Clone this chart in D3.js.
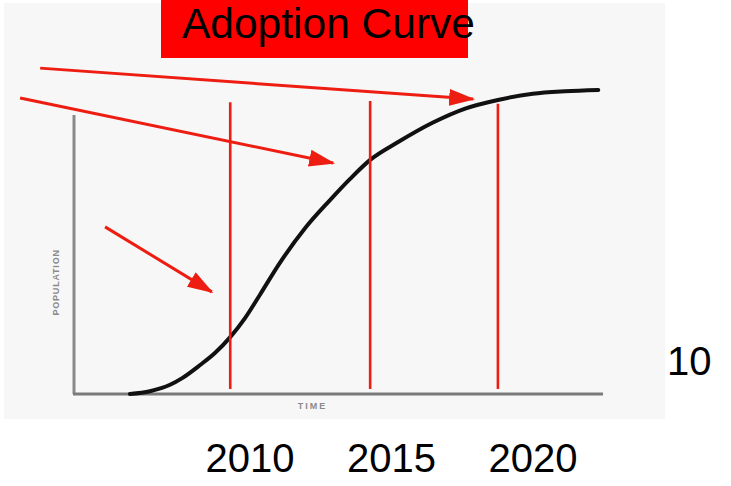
<!DOCTYPE html>
<html>
<head>
<meta charset="utf-8">
<script src="https://cdn.jsdelivr.net/npm/d3@7"></script>
<style>
  html, body { margin: 0; padding: 0; background: #ffffff; }
  svg { display: block; }
  text { font-family: "Liberation Sans", Arial, sans-serif; }
</style>
</head>
<body>
<svg id="chart" width="731" height="486"></svg>
<script>
// ---- data (time and population in arbitrary 0-100 units of the sketched chart) ----
const curveTime = [10.4, 14.2, 18.0, 20.3, 23.7, 26.5, 29.4, 32.2, 35.0, 38.8, 43.6, 48.3, 52.1, 55.9, 61.2, 67.8, 73.9, 80.1, 86.7, 92.8, 99.1];
const curvePop  = [0, 1.0, 3.3, 5.7, 10.4, 14.7, 20.4, 27.2, 35.5, 47.0, 59.5, 69.5, 77.1, 83.9, 90.3, 97.3, 102.3, 105.4, 107.6, 108.5, 109.0];

const markerYears = ["2010", "2015", "2020"];
const markerTime  = [29.4, 55.9, 80.1];
const markerTop   = [104.6, 105.0, 104.0];

// arrows: start/end in chart units
const arrowX1 = [-6.6, -10.4, 5.7];
const arrowY1 = [116.8, 106.1, 59.9];
const arrowX2 = [75.4, 48.9, 25.9];
const arrowY2 = [105.7, 82.8, 36.6];

const titleText = "Adoption Curve";
const sideLabel = "10";
const xAxisLabel = "TIME";
const yAxisLabel = "POPULATION";

// ---- drawing ----
const svg = d3.select("#chart");

const x = d3.scaleLinear().domain([0, 100]).range([75, 603]);
const y = d3.scaleLinear().domain([0, 100]).range([394, 115]);

// scanned paper background
svg.append("rect")
  .attr("x", 4).attr("y", 3).attr("width", 661).attr("height", 416)
  .attr("fill", "#f7f7f7");

// title box
svg.append("rect")
  .attr("x", 161).attr("y", 0).attr("width", 307).attr("height", 58)
  .attr("fill", "#ff0000");
svg.append("text")
  .attr("x", 182).attr("y", 38)
  .attr("font-size", 42.5)
  .attr("fill", "#000")
  .text(titleText);

// axes of the sketch
const axisG = svg.append("g");
axisG.append("line")
  .attr("x1", x(0) - 1).attr("x2", x(0) - 1)
  .attr("y1", y(0)).attr("y2", y(100))
  .attr("stroke", "#8a8a8a").attr("stroke-width", 3);
axisG.append("line")
  .attr("x1", x(0) - 2).attr("x2", x(100))
  .attr("y1", y(0)).attr("y2", y(0))
  .attr("stroke", "#7a7a7a").attr("stroke-width", 3);

// faint axis labels
svg.append("text")
  .attr("transform", `translate(${x(0) - 16},${y(40)}) rotate(-90)`)
  .attr("text-anchor", "middle")
  .attr("font-size", 9)
  .attr("letter-spacing", 0.8)
  .attr("fill", "#8a8a8a")
  .attr("font-weight", "bold")
  .text(yAxisLabel);
svg.append("text")
  .attr("x", x(45)).attr("y", y(0) + 15)
  .attr("text-anchor", "middle")
  .attr("font-size", 9)
  .attr("letter-spacing", 2)
  .attr("font-weight", "bold")
  .attr("fill", "#8a8a8a")
  .text(xAxisLabel);

// adoption curve
const pts = curveTime.map((t, i) => [t, curvePop[i]]);
svg.append("path")
  .datum(pts)
  .attr("fill", "none")
  .attr("stroke", "#111")
  .attr("stroke-width", 4)
  .attr("stroke-linecap", "round")
  .attr("d", d3.line().x(d => x(d[0])).y(d => y(d[1])).curve(d3.curveMonotoneX));

// red vertical markers
svg.append("g").selectAll("line")
  .data(markerTime)
  .join("line")
  .attr("x1", d => x(d)).attr("x2", d => x(d))
  .attr("y1", (d, i) => y(markerTop[i]))
  .attr("y2", y(0) - 5)
  .attr("stroke", "#ee1d12")
  .attr("stroke-width", 2.6);

// arrow marker
svg.append("defs").append("marker")
  .attr("id", "head")
  .attr("viewBox", "0 0 26 17")
  .attr("refX", 24).attr("refY", 8.5)
  .attr("markerWidth", 26).attr("markerHeight", 17)
  .attr("markerUnits", "userSpaceOnUse")
  .attr("orient", "auto")
  .append("path")
  .attr("d", "M0,0 L26,8.5 L0,17 Z")
  .attr("fill", "#ee1d12");

svg.append("g").selectAll("line")
  .data(arrowX1)
  .join("line")
  .attr("x1", (d, i) => x(arrowX1[i]))
  .attr("y1", (d, i) => y(arrowY1[i]))
  .attr("x2", (d, i) => x(arrowX2[i]))
  .attr("y2", (d, i) => y(arrowY2[i]))
  .attr("stroke", "#ee1d12")
  .attr("stroke-width", 3)
  .attr("marker-end", "url(#head)");

// year labels
const labelX = d3.scalePoint().domain(markerYears).range([250, 533]);
svg.append("g").selectAll("text")
  .data(markerYears)
  .join("text")
  .attr("x", d => labelX(d))
  .attr("y", 472)
  .attr("text-anchor", "middle")
  .attr("font-size", 40)
  .attr("fill", "#000")
  .text(d => d);

// side label
svg.append("text")
  .attr("x", 667).attr("y", 375)
  .attr("font-size", 40)
  .attr("fill", "#000")
  .text(sideLabel);
</script>
</body>
</html>
